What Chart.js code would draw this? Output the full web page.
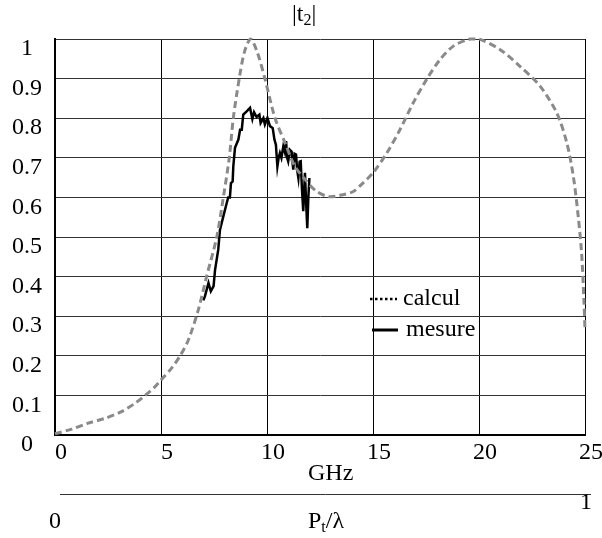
<!DOCTYPE html>
<html>
<head>
<meta charset="utf-8">
<script src="https://cdn.jsdelivr.net/npm/chart.js@4/dist/chart.umd.min.js"></script>
<style>
  html, body { margin: 0; padding: 0; background: #fff; }
  #wrap { width: 602px; height: 538px; }
</style>
</head>
<body>
<div id="wrap"><canvas id="t2Chart" width="602" height="538"></canvas></div>
<script>
// calcul (dashed grey) - frequency in GHz / |t2|
const calculX = [0, 0.8, 1.57, 2.36, 3.14, 3.77, 4.25, 4.72, 5.0, 5.5, 5.9, 6.29, 6.76, 7.15, 7.63, 7.94, 8.22, 8.41, 8.69, 8.95, 9.23,
    9.55, 9.9, 10.38, 10.85, 11.3, 11.8, 12.3, 12.9, 13.5, 14.07, 14.5, 15.0, 15.65, 16.27, 16.9,
    17.53, 18.16, 18.79, 19.58, 20.05, 21.0, 21.93, 22.88, 23.67, 24.14, 24.45, 24.68, 24.84, 24.95, 25];
const calculY = [0.003, 0.015, 0.03, 0.042, 0.059, 0.08, 0.1, 0.122, 0.139, 0.169, 0.2, 0.24, 0.316, 0.4, 0.5, 0.6, 0.7, 0.8, 0.9, 0.97, 1.0,
    0.965, 0.9, 0.8, 0.738, 0.68, 0.645, 0.617, 0.602, 0.606, 0.615, 0.635, 0.662, 0.712, 0.771, 0.839,
    0.898, 0.948, 0.982, 1.0, 0.999, 0.973, 0.931, 0.881, 0.813, 0.738, 0.653, 0.552, 0.459, 0.34, 0.265];

// mesure (solid black)
const mesureX = [7.0, 7.07, 7.24, 7.35, 7.48, 7.55, 7.7, 7.78, 7.94, 8.1, 8.17, 8.25, 8.3, 8.38, 8.41, 8.49, 8.65,
    8.73, 8.81, 8.88, 9.04, 9.2, 9.31, 9.39, 9.51, 9.64, 9.7, 9.83, 9.9, 10.02, 10.14, 10.27, 10.35,
    10.42, 10.49, 10.55, 10.61, 10.68, 10.77, 10.84, 10.9, 10.95, 11.0, 11.08, 11.16, 11.2, 11.24, 11.3, 11.37,
    11.42, 11.48, 11.54, 11.59, 11.65, 11.71, 11.79, 11.85, 11.9, 11.95, 12.0];
const mesureY = [0.34, 0.35, 0.384, 0.363, 0.376, 0.417, 0.468, 0.518, 0.552, 0.586, 0.6, 0.6, 0.636, 0.64, 0.678, 0.725, 0.746,
    0.771, 0.771, 0.809, 0.817, 0.826, 0.798, 0.815, 0.803, 0.809, 0.788, 0.8, 0.784, 0.801, 0.78, 0.775, 0.746,
    0.733, 0.678, 0.70, 0.712, 0.7, 0.729, 0.715, 0.742, 0.70, 0.691, 0.72, 0.716, 0.69, 0.67, 0.71, 0.708,
    0.67, 0.649, 0.69, 0.691, 0.62, 0.565, 0.662, 0.58, 0.522, 0.6, 0.649];

const seriesNames = ['calcul', 'mesure'];
const titleParts = ['|t', '2', '|'];
const xUnit = 'GHz';
const secondAxisLabels = ['0', '1'];
const secondAxisTitle = ['P', 't', '/\u03bb'];

const FONT = 'Liberation Serif';
Chart.defaults.font.family = FONT;
Chart.defaults.font.size = 24;
Chart.defaults.color = '#000';

const toPoints = (xs, ys) => xs.map((x, i) => ({ x: x, y: ys[i] }));

// text with a subscript part: [main, sub, rest]
function drawSub(ctx, parts, x, y) {
    ctx.textBaseline = 'middle';
    ctx.textAlign = 'left';
    ctx.font = '24px ' + FONT;
    ctx.fillText(parts[0], x, y);
    x += ctx.measureText(parts[0]).width;
    ctx.font = '16px ' + FONT;
    ctx.fillText(parts[1], x, y + 6);
    x += ctx.measureText(parts[1]).width;
    ctx.font = '24px ' + FONT;
    ctx.fillText(parts[2], x, y);
}

const extras = {
    id: 'extras',
    afterDraw(chart) {
        const ctx = chart.ctx;
        ctx.save();
        ctx.fillStyle = '#000';

        // title |t2|
        drawSub(ctx, titleParts, 292, 15);

        // GHz
        ctx.font = '24px ' + FONT;
        ctx.textAlign = 'left';
        ctx.textBaseline = 'middle';
        ctx.fillText(xUnit, 308, 474);

        // second axis
        ctx.strokeStyle = '#333';
        ctx.lineWidth = 1;
        ctx.beginPath();
        ctx.moveTo(60, 494.5);
        ctx.lineTo(591, 494.5);
        ctx.stroke();
        ctx.textAlign = 'center';
        ctx.fillText(secondAxisLabels[0], 55, 522);
        ctx.fillText(secondAxisLabels[1], 586, 503);
        drawSub(ctx, secondAxisTitle, 308, 522);

        // legend
        const items = [
            { y: 299, x0: 370, x1: 397, tx: 403, dash: [2.5, 2.5], w: 2.5 },
            { y: 330, x0: 372, x1: 398, tx: 406, dash: [], w: 3 }
        ];
        items.forEach((it, i) => {
            ctx.strokeStyle = '#000';
            ctx.lineWidth = it.w;
            ctx.setLineDash(it.dash);
            ctx.beginPath();
            ctx.moveTo(it.x0, it.y);
            ctx.lineTo(it.x1, it.y);
            ctx.stroke();
            ctx.setLineDash([]);
            ctx.font = '24px ' + FONT;
            ctx.textAlign = 'left';
            ctx.textBaseline = 'middle';
            ctx.fillText(seriesNames[i], it.tx, it.y);
        });
        ctx.restore();
    }
};

const ctx = document.getElementById('t2Chart').getContext('2d');
new Chart(ctx, {
    type: 'scatter',
    data: {
        datasets: [
            {
                label: seriesNames[0],
                data: toPoints(calculX, calculY),
                showLine: true,
                borderColor: '#8a8a8a',
                borderWidth: 3,
                borderDash: [7, 4],
                pointRadius: 0,
                tension: 0.3,
                clip: 6
            },
            {
                label: seriesNames[1],
                data: toPoints(mesureX, mesureY),
                showLine: true,
                borderColor: '#000',
                borderWidth: 2.5,
                pointRadius: 0,
                tension: 0,
                clip: 6
            }
        ]
    },
    options: {
        responsive: false,
        animation: false,
        layout: { padding: { top: 39, right: 17, left: 0, bottom: 0 } },
        plugins: {
            legend: { display: false },
            tooltip: { enabled: false }
        },
        scales: {
            x: {
                type: 'linear',
                min: 0,
                max: 25,
                ticks: { stepSize: 5, padding: 3, labelOffset: 6, maxRotation: 0 },
                grid: { color: '#000', lineWidth: 1, drawTicks: false },
                border: { color: '#000', width: 2 },
                afterFit: (scale) => { scale.height = 103; }
            },
            y: {
                min: 0,
                max: 1,
                ticks: {
                    stepSize: 0.1, padding: 13, crossAlign: 'center', labelOffset: 10,
                    callback: (v) => String(Math.round(v * 10) / 10)
                },
                grid: { color: '#333', lineWidth: 1, drawTicks: false },
                border: { color: '#000', width: 2 },
                afterFit: (scale) => { scale.width = 55; }
            }
        }
    },
    plugins: [extras]
});
</script>
</body>
</html>
